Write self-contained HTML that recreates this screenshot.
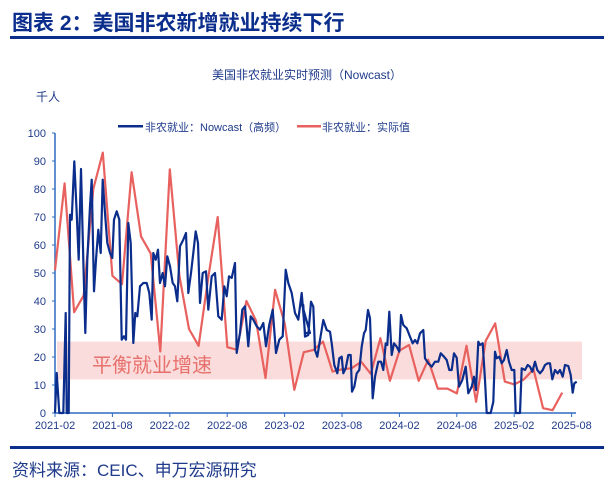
<!DOCTYPE html>
<html><head><meta charset="utf-8"><style>
body{margin:0;background:#fff;width:614px;height:490px;overflow:hidden;font-family:"Liberation Sans","Noto Sans CJK SC",sans-serif;}
</style></head><body>
<svg id="s" width="614" height="490" xmlns="http://www.w3.org/2000/svg" font-family="Liberation Sans, Noto Sans CJK SC, sans-serif">
<text x="12" y="30" font-size="21" font-weight="bold" fill="#0b2d8c">图表 2：美国非农新增就业持续下行</text>
<rect x="10" y="36" width="594" height="3" fill="#0b2d8c"/>
<text x="307" y="79" font-size="12" fill="#1f3a8a" text-anchor="middle">美国非农就业实时预测（Nowcast）</text>
<text x="36" y="101" font-size="12" fill="#1f3a8a">千人</text>
<rect x="118" y="125" width="25" height="2.5" fill="#0b2d8c"/>
<text x="145" y="131" font-size="11" fill="#1f3a8a">非农就业：Nowcast（高频）</text>
<rect x="297" y="125" width="24" height="2.5" fill="#e8615e"/>
<text x="322" y="131" font-size="11" fill="#1f3a8a">非农就业：实际值</text>
<rect x="57" y="341.6" width="525" height="37.8" fill="#f9dcdb"/>
<text x="92" y="372" font-size="20" fill="#e8706c">平衡就业增速</text>
<g id="ax"></g>
<rect x="10" y="446" width="594" height="3" fill="#0b2d8c"/>
<text x="12" y="476" font-size="17" fill="#1f3a8a">资料来源：CEIC、申万宏源研究</text>
</svg>
<script>
var s=document.getElementById('ax'),h='';
function Y(v){return 413-2.8*v;}
for(var v=0;v<=100;v+=10){h+='<text x="46" y="'+(Y(v)+4)+'" font-size="11" fill="#1f3a8a" text-anchor="end">'+v+'</text>';h+='<line x1="52" x2="55" y1="'+Y(v)+'" y2="'+Y(v)+'" stroke="#2e6cc0"/>';}
h+='<line x1="55" x2="55" y1="133" y2="413" stroke="#2e6cc0" stroke-width="1.5"/><line x1="55" x2="576" y1="413" y2="413" stroke="#2e6cc0" stroke-width="1.5"/>';
var lab=['2021-02','2021-08','2022-02','2022-08','2023-02','2023-08','2024-02','2024-08','2025-02','2025-08'];
for(var i=0;i<10;i++){var x=55+i*57.4;h+='<line x1="'+x+'" x2="'+x+'" y1="413" y2="417" stroke="#2e6cc0"/><text x="'+x+'" y="429" font-size="11" fill="#1f3a8a" text-anchor="middle">'+lab[i]+'</text>';}
var b2=[[75,880],[80,760],[88,880],[100,880],[107,580],[110,880],[116,880],[120,285],[125,300],[133,125],[140,280],[146,420],[153,148],[160,420],[166,640],[172,420],[180,260],[185,180],[192,515],[198,420],[205,330],[212,400],[218,180],[225,280],[232,370],[240,400],[247,415],[252,300],[260,275],[268,300],[275,660],[282,650],[288,660],[295,310],[302,370],[310,670],[316,580],[322,590],[330,500],[340,490],[350,490],[358,520],[365,600],[370,400],[377,420],[384,390],[390,490],[398,460],[405,500],[412,410],[420,440],[428,490],[435,500],[442,545],[450,380],[460,360],[468,340],[475,520],[483,460],[490,400],[497,335],[504,370],[510,550],[518,460],[528,455],[535,570],[545,470],[555,460],[565,590],[575,600],[583,500],[590,530],[597,470],[605,475],[615,430],[620,700],[630,640],[637,570],[645,560],[655,680],[662,590],[670,600],[680,620],[690,630],[700,610],[708,680],[718,615],[728,570],[738,700],[748,660],[758,650],[767,450],[775,490],[785,520],[795,580],[805,600],[815,520],[825,640],[840,640]];
var b3=[[5,220],[10,225],[15,320],[25,315],[33,215],[40,230],[45,360],[52,380],[60,330],[70,270],[80,300],[90,305],[95,340],[103,405],[112,430],[118,385],[125,380],[130,430],[137,415],[145,375],[152,375],[156,485],[163,470],[170,430],[178,420],[185,350],[192,310],[197,300],[204,240],[210,265],[218,505],[225,440],[235,395],[243,395],[250,420],[257,340],[262,345],[268,245],[275,375],[282,340],[290,350],[298,365],[303,255],[310,285],[320,295],[330,320],[338,340],[345,330],[352,340],[360,310],[370,300],[375,385],[385,400],[395,410],[405,395],[415,395],[422,370],[432,380],[440,390],[448,420],[455,420],[462,370],[470,383],[477,470],[487,450],[497,410],[505,490],[515,470],[522,440],[528,480],[535,335],[540,345],[548,340],[555,450],[560,549],[572,549],[580,515],[585,365],[590,385],[598,380],[605,400],[612,390],[620,360],[627,395],[635,420],[643,420],[647,549],[660,549],[665,415],[675,420],[683,405],[690,410],[697,425],[705,395],[712,420],[720,430],[728,420],[735,405],[743,400],[750,400],[757,448],[765,420],[773,430],[780,420],[788,440],[795,405],[805,408],[812,435],[818,488],[823,460],[830,455]];
var p=[];b2.forEach(function(a){p.push((30+a[0]/3).toFixed(1)+','+Y((880-a[1])/8.4).toFixed(1));});
b3.forEach(function(a){p.push((300+a[0]/3).toFixed(1)+','+Y((549-a[1])/8.4).toFixed(1));});
var r=[51,82,36,42,80,93,49,46,86,63,57,22,87,49,30,24,48,70,23.5,22.6,40,33,12.5,44,32,8.3,21.7,22.5,25.5,14.8,15.6,16,18.3,14,26.7,11.5,22.3,24.3,11.5,19,8.7,8.7,7,24,4,25.8,32,11.2,10.2,12,15.6,1.7,1,7.3];
var q=r.map(function(v,i){return (55+i*9.57).toFixed(1)+','+Y(v).toFixed(1);});
h+='<polyline points="'+q.join(' ')+'" fill="none" stroke="#e8615e" stroke-width="2.2" stroke-linejoin="round"/>';
h+='<polyline points="'+p.join(' ')+'" fill="none" stroke="#0b2d8c" stroke-width="2.2" stroke-linejoin="round"/>';
s.innerHTML=h;
</script>
</body></html>
